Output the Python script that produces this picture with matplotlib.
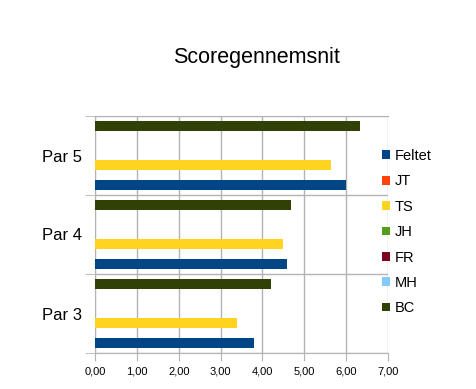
import numpy as np
import matplotlib
matplotlib.use("Agg")
import matplotlib.pyplot as plt
from matplotlib.ticker import FuncFormatter

plt.rcParams['font.family'] = ['Liberation Sans', 'DejaVu Sans']

categories = ["Par 3", "Par 4", "Par 5"]
series = ["Feltet", "JT", "TS", "JH", "FR", "MH", "BC"]
values = {
    "Feltet": [3.80, 4.58, 6.00],
    "JT": [0, 0, 0],
    "TS": [3.39, 4.49, 5.65],
    "JH": [0, 0, 0],
    "FR": [0, 0, 0],
    "MH": [0, 0, 0],
    "BC": [4.20, 4.68, 6.33],
}
colors = ["#004586", "#ff420e", "#ffd320", "#579d1c", "#7e0021", "#83caff", "#314004"]
grid_col = "#b3b3b3"

fig = plt.figure(figsize=(4.77, 3.89), dpi=100)
ax = fig.add_axes([95 / 477, 1 - 353 / 389, 293 / 477, 237 / 389])

y = np.arange(len(categories))
h = 0.875 / len(series)
handles = []
for i, name in enumerate(series):
    off = -0.4375 + h / 2 + i * h
    b = ax.barh(y + off, values[name], height=h, color=colors[i], zorder=3)
    handles.append(b)

ax.set_xlim(0, 7)
ax.set_ylim(-0.5, 2.5)
ax.set_xticks(np.arange(0, 8))
ax.xaxis.set_major_formatter(FuncFormatter(lambda v, p: f"{v:.2f}".replace(".", ",")))
ax.set_yticks(y)
ax.set_yticklabels(categories, fontsize=12)
ax.set_yticks([-0.5, 0.5, 1.5, 2.5], minor=True)
ax.tick_params(axis="y", which="major", length=0, pad=9)
ax.tick_params(axis="y", which="minor", length=7, color=grid_col)
ax.tick_params(axis="x", length=6, color=grid_col, labelsize=8, pad=4)
ax.grid(axis="x", color=grid_col, linewidth=1, zorder=0)
ax.grid(axis="y", which="minor", color=grid_col, linewidth=1, zorder=0)
for s in ax.spines.values():
    s.set_color(grid_col)
ax.spines["right"].set_visible(False)

fig.text(257 / 477, 1 - 57 / 389, "Scoregennemsnit", fontsize=15.5,
         ha="center", va="center")

fig.legend(handles, series, loc="upper left",
           bbox_to_anchor=(382 / 477, 1 - 149 / 389), frameon=False,
           fontsize=10.5, handlelength=0.55, handleheight=0.55,
           handletextpad=0.35, labelspacing=0.78, borderpad=0,
           borderaxespad=0)

fig.savefig("out.png", dpi=100)
